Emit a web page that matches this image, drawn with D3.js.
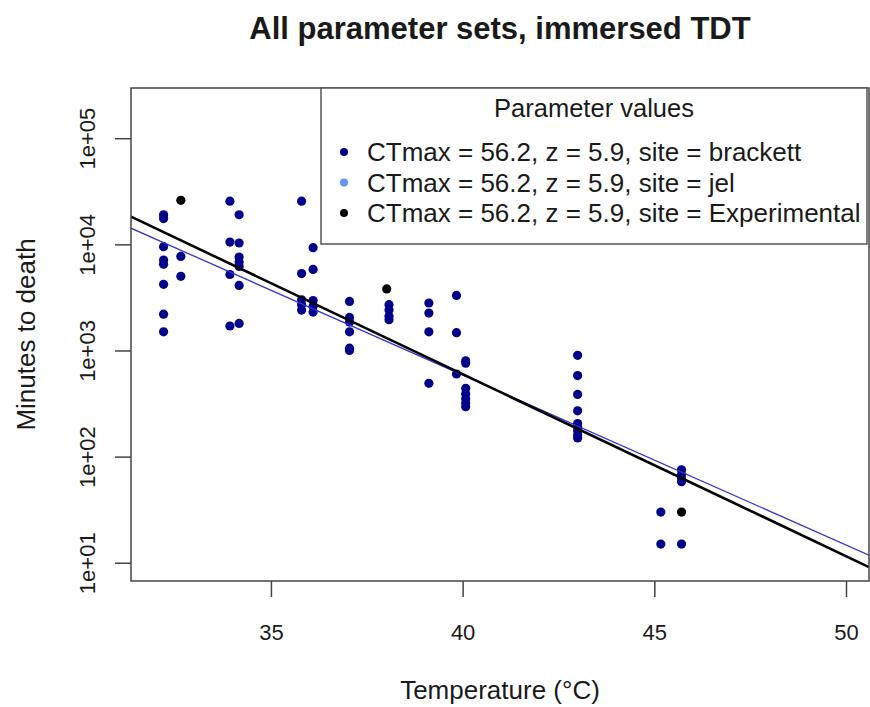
<!DOCTYPE html>
<html>
<head>
<meta charset="utf-8">
<script src="https://cdn.jsdelivr.net/npm/d3@7"></script>
<style>
body { margin: 0; background: #fff; }
text { font-family: "Liberation Sans", Arial, Helvetica, sans-serif; fill: #1a1a1a; }
</style>
</head>
<body>
<svg id="chart" width="870" height="707"></svg>
<script>
// values
var brackettTemp = [32.2, 32.65, 33.93, 34.17, 35.8, 36.1, 37.05, 38.08, 39.12, 39.84, 40.08, 43.0, 45.17, 45.71];
var brackettMinutes = [
  [19000, 17500, 9500, 7100, 6500, 4200, 2200, 1500],
  [7700, 5000],
  [25500, 10500, 5200, 1700],
  [19000, 10300, 7600, 6800, 6200, 4100, 1800],
  [25500, 5300, 3000, 2700, 2400],
  [9300, 5800, 2950, 2600, 2300],
  [2900, 2050, 1850, 1500, 1050, 1000],
  [2700, 2400, 2100, 1950],
  [2800, 2250, 1500, 490],
  [3300, 1470, 600],
  [800, 760, 440, 390, 350, 320, 295],
  [900, 580, 385, 270, 205, 190, 175, 160, 150],
  [30, 15],
  [75, 68, 62, 58, 15]
];
var expTemp = [32.65, 38.02, 45.71];
var expMinutes = [26000, 3800, 30];

// fitted TDT lines: log10(minutes) = (ctmax - T) / z
var fitNames = ["jel", "Experimental"];
var fitCTmax = [57.3, 56.19];
var fitZ = [6.25, 5.83];

var legendLabels = [
  "CTmax = 56.2, z = 5.9, site = brackett",
  "CTmax = 56.2, z = 5.9, site = jel",
  "CTmax = 56.2, z = 5.9, site = Experimental"
];
var legendColors = ["#00008b", "#6495ed", "#000000"];

var xTicks = [35, 40, 45, 50];
var yTicks = [10, 100, 1000, 10000, 100000];

var box = ({left: 131, right: 869, top: 88, bottom: 581});

var svg = d3.select("#chart");

var x = d3.scaleLinear()
  .domain([31.35, 50.6])
  .range([box.left, box.right]);

var y = d3.scaleLog()
  .domain([Math.pow(10, 0.828), Math.pow(10, 5.473)])
  .range([box.bottom, box.top]);

svg.append("defs").append("clipPath").attr("id", "clip")
  .append("rect")
  .attr("x", box.left).attr("y", box.top)
  .attr("width", box.right - box.left).attr("height", box.bottom - box.top);

// points
var pts = [];
brackettTemp.forEach((t, i) => brackettMinutes[i].forEach(m => pts.push({t: t, m: m, c: legendColors[0]})));
expTemp.forEach((t, i) => pts.push({t: t, m: expMinutes[i], c: legendColors[2]}));

svg.append("g")
  .selectAll("circle")
  .data(pts)
  .enter().append("circle")
  .attr("cx", d => x(d.t))
  .attr("cy", d => y(d.m))
  .attr("r", 4.6)
  .attr("fill", d => d.c);

// lines
var lineStyles = [{stroke: "#3434d2", width: 1.3}, {stroke: "#000", width: 2.6}];
var lineGen = d3.line().x(d => x(d[0])).y(d => y(d[1]));
svg.append("g")
  .attr("clip-path", "url(#clip)")
  .selectAll("path")
  .data(fitNames)
  .enter().append("path")
  .attr("fill", "none")
  .attr("stroke", (d, i) => lineStyles[i].stroke)
  .attr("stroke-width", (d, i) => lineStyles[i].width)
  .attr("d", (d, i) => {
    var ends = x.domain().map(t => [t, Math.pow(10, (fitCTmax[i] - t) / fitZ[i])]);
    return lineGen(ends);
  });

// axes
var xAxis = svg.append("g")
  .attr("transform", `translate(0,${box.bottom})`)
  .call(d3.axisBottom(x).tickValues(xTicks).tickSize(16).tickPadding(27).tickFormat(d3.format("d")));

var yAxis = svg.append("g")
  .attr("transform", `translate(${box.left},0)`)
  .call(d3.axisLeft(y).tickValues(yTicks).tickSize(16).tickFormat(d => {
    var e = Math.round(Math.log10(d));
    return "1e+" + (e < 10 ? "0" : "") + e;
  }));

[xAxis, yAxis].forEach(g => {
  g.select(".domain").remove();
  g.selectAll(".tick line").attr("stroke", "#444").attr("stroke-width", 1.5);
  g.selectAll(".tick text").style("font-size", "22px").attr("fill", "#1a1a1a");
});

yAxis.selectAll(".tick text")
  .attr("x", null).attr("dy", null)
  .attr("text-anchor", "middle")
  .attr("transform", "translate(-36,0) rotate(-90)");

svg.append("rect")
  .attr("x", box.left).attr("y", box.top)
  .attr("width", box.right - box.left).attr("height", box.bottom - box.top)
  .attr("fill", "none").attr("stroke", "#444").attr("stroke-width", 1.5);

// titles
svg.append("text")
  .attr("x", (box.left + box.right) / 2).attr("y", 39)
  .attr("text-anchor", "middle")
  .attr("font-size", "31px").attr("font-weight", "bold")
  .text("All parameter sets, immersed TDT");

svg.append("text")
  .attr("x", (box.left + box.right) / 2).attr("y", 699)
  .attr("text-anchor", "middle")
  .attr("font-size", "26px")
  .text("Temperature (°C)");

svg.append("text")
  .attr("transform", `translate(35,${(box.top + box.bottom) / 2}) rotate(-90)`)
  .attr("text-anchor", "middle")
  .attr("font-size", "26px")
  .text("Minutes to death");

// legend
var leg = svg.append("g");
leg.append("rect")
  .attr("x", 321).attr("y", box.top)
  .attr("width", box.right - 2 - 321).attr("height", 156)
  .attr("fill", "#fff").attr("stroke", "#555").attr("stroke-width", 1.5);

leg.append("text")
  .attr("x", 321 + (box.right - 2 - 321) / 2).attr("y", 117)
  .attr("text-anchor", "middle")
  .attr("font-size", "25.5px")
  .text("Parameter values");

var rows = leg.selectAll(".row")
  .data(legendLabels)
  .enter().append("g")
  .attr("class", "row")
  .attr("transform", (d, i) => `translate(344,${152 + i * 30.5})`);

rows.append("circle").attr("r", 4).attr("fill", (d, i) => legendColors[i]);
rows.append("text")
  .attr("x", 23).attr("dy", "0.35em")
  .attr("font-size", "26px")
  .text(d => d);
</script>
</body>
</html>
